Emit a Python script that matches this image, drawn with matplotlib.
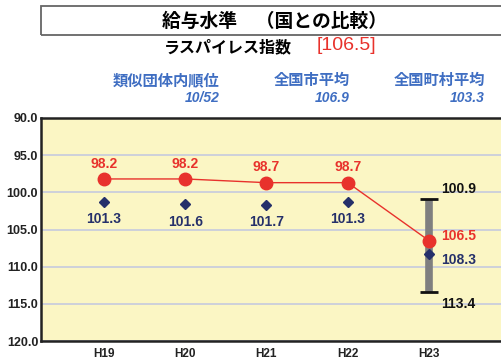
import numpy as np
import matplotlib
matplotlib.use('Agg')
from matplotlib import pyplot as plt
from matplotlib.patches import Rectangle

# datos
anos = ['H19', 'H20', 'H21', 'H22', 'H23']
laspeyres = [98.2, 98.2, 98.7, 98.7, 106.5]
ruiji_heikin = [101.3, 101.6, 101.7, 101.3, 108.3]
ruiji_max = 100.9
ruiji_min = 113.4
juni = '10/52'
shi_heikin = 106.9
choson_heikin = 103.3

JP = ['Noto Sans CJK JP', 'DejaVu Sans']
NUM = ['Liberation Sans', 'DejaVu Sans']
AZUL = '#3F6EC2'
NAVY = '#25306A'
ROJO = '#E8322C'

fig = plt.figure(figsize=(5.02, 3.63), dpi=100)
W, H = 502.0, 363.0

# caixa do titulo
fig.patches.append(Rectangle((41 / W, 1 - 35 / H), 470 / W, 29 / H, transform=fig.transFigure,
                             fill=False, edgecolor='#666666', lw=1.3))
fig.text(275 / W, 1 - 21 / H, '給与水準　（国との比較）', family=JP, fontsize=13.5, fontweight='bold',
         ha='center', va='center')
fig.text(292 / W, 1 - 47 / H, 'ラスパイレス指数', family=JP, fontsize=11.5, fontweight='bold',
         ha='right', va='center')
fig.text(317 / W, 1 - 46 / H, '[' + str(laspeyres[-1]) + ']', family=NUM, fontsize=14,
         color=ROJO, ha='left', va='center')

# rotulos azuis
cab = [('類似団体内順位', juni, 220), ('全国市平均', str(shi_heikin), 350),
       ('全国町村平均', str(choson_heikin), 485)]
for nome, valor, xr in cab:
    fig.text(xr / W, 1 - 80 / H, nome, family=JP, fontsize=11, fontweight='bold', color=AZUL,
             ha='right', va='center')
    fig.text(xr / W, 1 - 98 / H, valor, family=NUM, fontsize=10, fontweight='bold', style='italic',
             color=AZUL, ha='right', va='center')

# eixo principal (estende alem da borda direita)
px = 81.25
xmin = -(104 - 41) / px
xmax = (515 - 104) / px
ax = fig.add_axes([41 / W, 1 - 341 / H, 474 / W, 223 / H])
ax.set_xlim(xmin, xmax)
ax.set_ylim(120, 90)
ax.set_facecolor('#FBF6C4')
for s in ax.spines.values():
    s.set_color('#222222')
    s.set_linewidth(1.8)
ax.set_yticks(np.arange(90, 121, 5))
ax.set_yticklabels(['%.1f' % v for v in np.arange(90, 121, 5)], family=NUM, fontsize=9,
                   fontweight='bold', color='#222222')
x = np.arange(len(anos))
ax.set_xticks(x)
ax.set_xticklabels(anos, family=NUM, fontsize=8.5, fontweight='bold', color='#222222')
ax.tick_params(axis='both', length=0)
ax.tick_params(axis='y', pad=2)
ax.tick_params(axis='x', pad=5)
ax.grid(axis='y', color='#CDD0DA', lw=1.4)
ax.set_axisbelow(True)

# faixa do grupo similar
xb = x[-1]
ax.vlines(xb, ruiji_max, ruiji_min, color='#7F7F7F', lw=5.5, zorder=2)
ax.hlines([ruiji_max, ruiji_min], xb - 0.11, xb + 0.11, color='#111111', lw=2, zorder=3)

ax.plot(x, laspeyres, '-', color=ROJO, lw=1, zorder=4)
ax.plot(x, laspeyres, 'o', color=ROJO, ms=9, zorder=5)
ax.plot(x, ruiji_heikin, 'D', color=NAVY, ms=5.5, zorder=6)

fs = 10
for i in range(len(anos) - 1):
    ax.annotate('%.1f' % laspeyres[i], (x[i], laspeyres[i]), xytext=(0, 6), textcoords='offset points',
                ha='center', va='bottom', color=ROJO, fontsize=fs, fontweight='bold', family=NUM)
    ax.annotate('%.1f' % ruiji_heikin[i], (x[i], ruiji_heikin[i]), xytext=(0, -7.5), textcoords='offset points',
                ha='center', va='top', color=NAVY, fontsize=fs, fontweight='bold', family=NUM)

off = 9
ax.annotate('%.1f' % laspeyres[-1], (xb, laspeyres[-1]), xytext=(off, 3), textcoords='offset points',
            ha='left', va='center', color=ROJO, fontsize=fs, fontweight='bold', family=NUM)
ax.annotate('%.1f' % ruiji_heikin[-1], (xb, ruiji_heikin[-1]), xytext=(off, -4), textcoords='offset points',
            ha='left', va='center', color=NAVY, fontsize=fs, fontweight='bold', family=NUM)
ax.annotate('%.1f' % ruiji_max, (xb, ruiji_max), xytext=(off, 7), textcoords='offset points',
            ha='left', va='center', color='#111111', fontsize=fs, fontweight='bold', family=NUM)
ax.annotate('%.1f' % ruiji_min, (xb, ruiji_min), xytext=(off, -9), textcoords='offset points',
            ha='left', va='center', color='#111111', fontsize=fs, fontweight='bold', family=NUM)

fig.savefig('out.png', dpi=100, facecolor='white')
